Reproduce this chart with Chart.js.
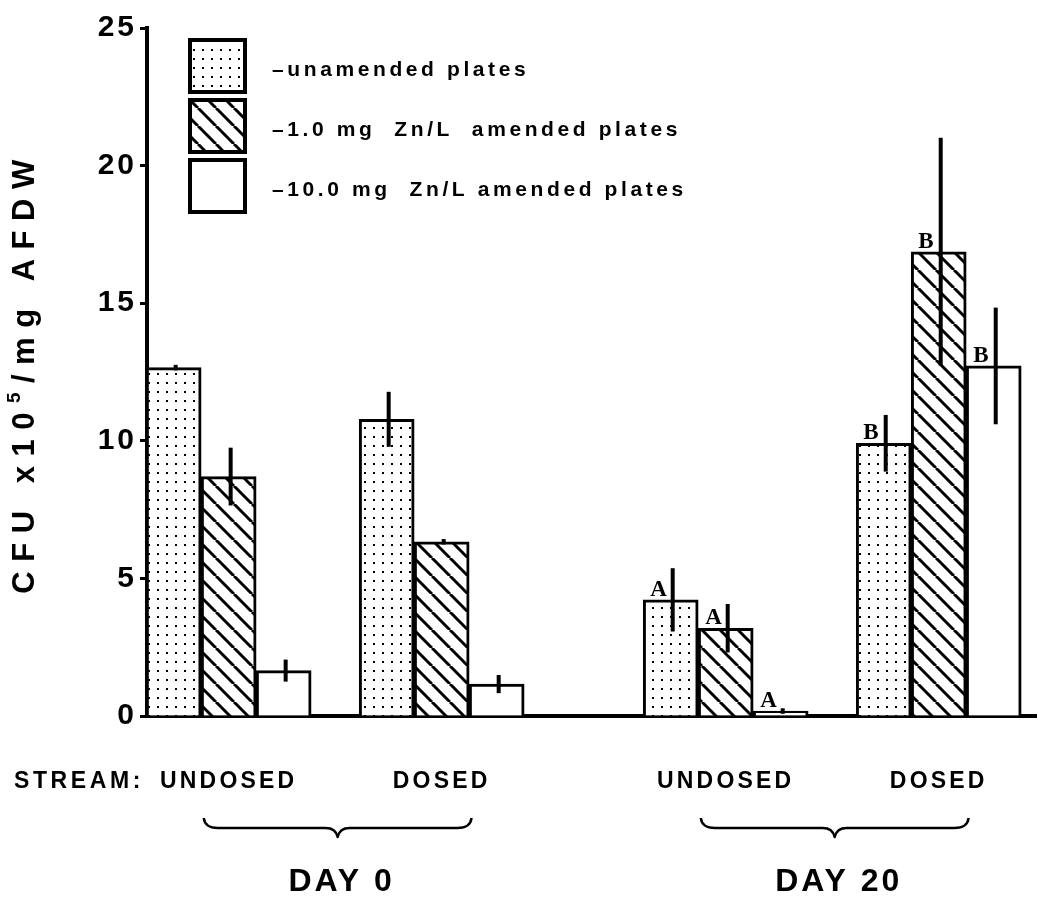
<!DOCTYPE html>
<html>
<head>
<meta charset="utf-8">
<script src="https://cdn.jsdelivr.net/npm/chart.js@4.4.1/dist/chart.umd.min.js"></script>
<style>
  html, body { margin: 0; padding: 0; background: #fff; }
  #wrap { width: 1038px; height: 902px; position: relative; }
</style>
</head>
<body>
<div id="wrap"><canvas id="cfu"></canvas></div>
<script>
// Stream groups along the x axis
const streams = ['UNDOSED', 'DOSED', 'UNDOSED', 'DOSED'];
const dayOfGroup = [0, 0, 1, 1];
const dayLabels = ['DAY 0', 'DAY 20'];

// CFU x10^5 / mg AFDW, mean and error half-width per group
const unamended    = [12.66, 10.78, 4.22, 9.91];
const unamendedErr = [0.10, 1.00, 1.15, 1.03];
const zn1          = [8.70, 6.33, 3.19, 16.87];
const zn1Err       = [1.05, 0.10, 0.88, 4.14];
const zn10         = [1.65, 1.16, 0.18, 12.72];
const zn10Err      = [0.40, 0.33, 0.10, 2.12];

// Significance letters above the bars
const unamendedSig = ['', '', 'A', 'B'];
const zn1Sig       = ['', '', 'A', 'B'];
const zn10Sig      = ['', '', 'A', 'B'];

const seriesNames = ['unamended plates', '1.0 mg Zn/L amended plates', '10.0 mg Zn/L amended plates'];
const legendText  = ['\u2013unamended plates', '\u20131.0 mg  Zn/L  amended plates', '\u201310.0 mg  Zn/L amended plates'];

const yTicks = [0, 5, 10, 15, 20, 25];

// layout of groups on the x axis: streams within a day, then a wider gap between days
const STREAM_STEP = 3, DAY_STEP = 7;
const groupX = streams.map((s, i) => dayOfGroup[i] * DAY_STEP + (i % 2) * STREAM_STEP);

const SANS = '"Liberation Sans", Arial, Helvetica, sans-serif';
const SERIF = '"Liberation Serif", "Times New Roman", "DejaVu Serif", serif';

// fill patterns
function dotPattern() {
  const c = document.createElement('canvas'); c.width = 9; c.height = 9;
  const g = c.getContext('2d');
  g.fillStyle = '#fff'; g.fillRect(0, 0, 9, 9);
  g.fillStyle = '#000'; g.fillRect(4, 4, 2, 2);
  return g.createPattern(c, 'repeat');
}
function hatchPattern() {
  const s = 18;
  const c = document.createElement('canvas'); c.width = s; c.height = s;
  const g = c.getContext('2d');
  g.fillStyle = '#fff'; g.fillRect(0, 0, s, s);
  g.strokeStyle = '#000'; g.lineWidth = 3;
  for (let k = -1; k <= 1; k++) {
    g.beginPath(); g.moveTo(k * s, 0); g.lineTo(k * s + s, s); g.stroke();
  }
  return g.createPattern(c, 'repeat');
}
const fills = [dotPattern(), hatchPattern(), '#ffffff'];

const toPoints = vals => vals.map((v, i) => ({ x: groupX[i], y: v }));
const values = [unamended, zn1, zn10];
const errors = [unamendedErr, zn1Err, zn10Err];
const sigs = [unamendedSig, zn1Sig, zn10Sig];

const datasets = values.map((vals, d) => ({
  label: seriesNames[d],
  data: toPoints(vals),
  backgroundColor: fills[d],
  borderColor: '#000',
  borderWidth: 3,
  borderSkipped: 'start',
  barThickness: 55,
  errors: errors[d],
  sig: sigs[d]
}));

function drawText(ctx, text, x, y, font, align, spacing, baseline) {
  ctx.save();
  ctx.font = font;
  ctx.letterSpacing = spacing;
  ctx.fillStyle = '#000';
  ctx.textBaseline = baseline || 'middle';
  const w = ctx.measureText(text).width;
  let sx = x;
  if (align === 'center') sx = x - w / 2;
  else if (align === 'right') sx = x - w;
  ctx.textAlign = 'left';
  ctx.fillText(text, sx, y);
  ctx.restore();
  return w;
}

function brace(ctx, a, b, y0) {
  const m = (a + b) / 2, h = 10;
  ctx.save();
  ctx.strokeStyle = '#000'; ctx.lineWidth = 2.5; ctx.lineJoin = 'round';
  ctx.beginPath();
  ctx.moveTo(a, y0);
  ctx.quadraticCurveTo(a + 1, y0 + h, a + 14, y0 + h);
  ctx.lineTo(m - 12, y0 + h);
  ctx.quadraticCurveTo(m - 2, y0 + h, m, y0 + h + 9);
  ctx.quadraticCurveTo(m + 2, y0 + h, m + 12, y0 + h);
  ctx.lineTo(b - 14, y0 + h);
  ctx.quadraticCurveTo(b - 1, y0 + h, b, y0);
  ctx.stroke();
  ctx.restore();
}

const decor = {
  id: 'decor',
  beforeDraw(chart) { chart.ctx.letterSpacing = '3px'; },
  afterDatasetsDraw(chart) {
    const ctx = chart.ctx, y = chart.scales.y;
    chart.data.datasets.forEach((ds, d) => {
      const meta = chart.getDatasetMeta(d);
      meta.data.forEach((bar, i) => {
        const v = ds.data[i].y, e = ds.errors[i];
        ctx.save();
        ctx.strokeStyle = '#000'; ctx.lineWidth = 4; ctx.lineCap = 'butt';
        ctx.beginPath();
        ctx.moveTo(bar.x + 2, y.getPixelForValue(v + e));
        ctx.lineTo(bar.x + 2, y.getPixelForValue(v - e));
        ctx.stroke();
        ctx.restore();
        if (ds.sig[i]) {
          drawText(ctx, ds.sig[i], bar.x - bar.width / 2 + 7, bar.y - 4,
                   'bold 23px ' + SERIF, 'left', '0px', 'alphabetic');
        }
      });
    });
  },
  afterDraw(chart) {
    const ctx = chart.ctx, area = chart.chartArea, x = chart.scales.x;

    // legend
    const boxL = area.left + 43, boxW = 55, boxH = 52;
    [40, 100, 160].forEach((top, d) => {
      ctx.save();
      ctx.fillStyle = fills[d];
      ctx.fillRect(boxL, top, boxW, boxH);
      ctx.strokeStyle = '#000'; ctx.lineWidth = 4;
      ctx.strokeRect(boxL, top, boxW, boxH);
      ctx.restore();
      drawText(ctx, legendText[d], boxL + 82, top + boxH / 2 + 4, 'bold 21px ' + SANS, 'left', '3.6px');
    });

    // y axis title with superscript exponent
    ctx.save();
    ctx.translate(25, (area.top + area.bottom) / 2);
    ctx.rotate(-Math.PI / 2);
    ctx.fillStyle = '#000';
    ctx.textBaseline = 'middle';
    ctx.letterSpacing = '9.5px';
    const big = 'bold 31px ' + SANS, small = 'bold 19px ' + SANS;
    const parts = [['CFU x10', big, 0], ['5', small, -10], ['/mg AFDW', big, 0]];
    let total = 0;
    parts.forEach(p => { ctx.font = p[1]; total += ctx.measureText(p[0]).width; });
    let cx = -total / 2;
    parts.forEach(p => {
      ctx.font = p[1];
      ctx.fillText(p[0], cx, p[2]);
      cx += ctx.measureText(p[0]).width;
    });
    ctx.restore();

    // stream labels under each group
    const labFont = 'bold 23px ' + SANS;
    streams.forEach((s, i) => {
      const px = x.getPixelForValue(groupX[i]);
      const w = drawText(ctx, s, px, 782, labFont, 'center', '3.2px');
      if (i === 0) drawText(ctx, 'STREAM:', px - w / 2 - 16, 782, labFont, 'right', '3.6px');
    });

    // braces and day labels
    dayLabels.forEach((lab, d) => {
      const idx = dayOfGroup.map((g, i) => g === d ? i : -1).filter(i => i >= 0);
      const a = x.getPixelForValue(groupX[idx[0]] - 0.35);
      const b = x.getPixelForValue(groupX[idx[idx.length - 1]] + 0.42);
      brace(ctx, a, b, 818);
      drawText(ctx, lab, (a + b) / 2 + 4, 882, 'bold 32px ' + SANS, 'center', '3px');
    });
    ctx.letterSpacing = '0px';
  }
};

new Chart(document.getElementById('cfu'), {
  type: 'bar',
  data: { datasets },
  options: {
    responsive: true,
    maintainAspectRatio: false,
    animation: false,
    layout: { padding: { top: 28, right: 2, left: 0, bottom: 0 } },
    plugins: { legend: { display: false }, tooltip: { enabled: false } },
    scales: {
      x: {
        type: 'linear',
        min: -1.15,
        max: 11.37,
        offset: false,
        grid: { display: false, offset: false },
        border: { display: true, color: '#000', width: 4 },
        ticks: { display: false },
        afterFit(scale) { scale.height = 186; }
      },
      y: {
        min: 0,
        max: 25,
        afterBuildTicks(scale) { scale.ticks = yTicks.map(v => ({ value: v })); },
        grid: { drawOnChartArea: false, drawTicks: true, tickLength: 7, tickWidth: 3, color: '#000' },
        border: { display: true, color: '#000', width: 4 },
        ticks: { color: '#000', padding: 3, font: { family: SANS, size: 30, weight: 'bold' } },
        afterFit(scale) { scale.width = 147; }
      }
    }
  },
  plugins: [decor]
});
</script>
</body>
</html>
